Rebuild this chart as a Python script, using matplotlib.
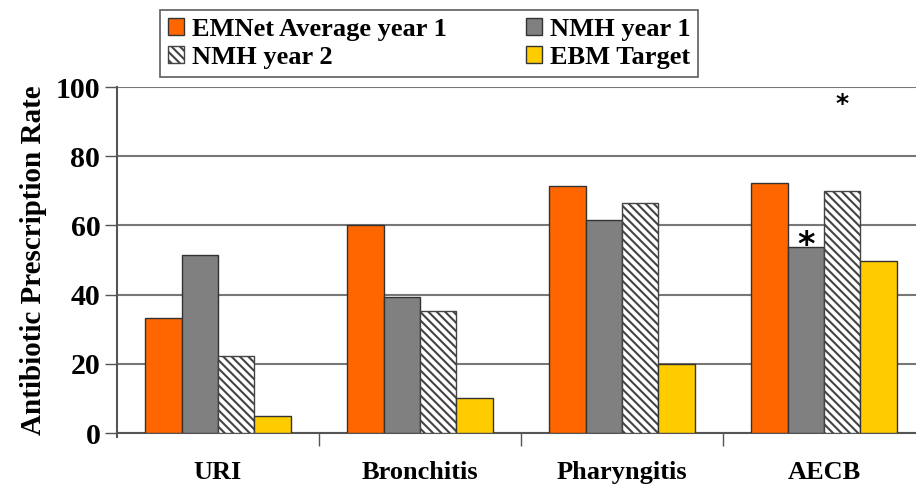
import matplotlib.pyplot as plt
import numpy as np

# categories and series values
categorias = ['URI', 'Bronchitis', 'Pharyngitis', 'AECB']
emnet_ano1 = [33.3, 60.0, 71.3, 72.4]
nmh_ano1 = [51.5, 39.4, 61.6, 53.8]
nmh_ano2 = [22.3, 35.4, 66.4, 69.9]
ebm_alvo = [4.8, 10.0, 19.9, 49.7]

plt.rcParams['font.family'] = ['Liberation Serif', 'DejaVu Serif']
plt.rcParams['font.weight'] = 'bold'
plt.rcParams['axes.labelweight'] = 'bold'
plt.rcParams['hatch.color'] = '#707070'
plt.rcParams['hatch.linewidth'] = 1.5

fig = plt.figure(figsize=(9.16, 4.88), dpi=100)
ax = fig.add_axes([0.1277, 0.1127, 0.882, 0.709])

x = np.arange(len(categorias))
w = 0.18
b1 = ax.bar(x - 1.5 * w, emnet_ano1, w, color='#FF6600', edgecolor='#333333',
            linewidth=1, label='EMNet Average year 1', zorder=3)
b2 = ax.bar(x - 0.5 * w, nmh_ano1, w, color='#808080', edgecolor='#333333',
            linewidth=1, label='NMH year 1', zorder=3)
b3 = ax.bar(x + 0.5 * w, nmh_ano2, w, color='white', edgecolor='#444444',
            hatch='\\\\\\\\', linewidth=1, label='NMH year 2', zorder=3)
b4 = ax.bar(x + 1.5 * w, ebm_alvo, w, color='#FFCC00', edgecolor='#333333',
            linewidth=1, label='EBM Target', zorder=3)

# asteriscos de significancia no AECB
ax.text(b2[3].get_x() + w / 2, nmh_ano1[3] - 4.5, '*', ha='center', va='bottom',
        fontsize=24, fontfamily='DejaVu Sans', zorder=4)
ax.text(b3[3].get_x() + w / 2, 91.5, '*', ha='center', va='bottom',
        fontsize=18, fontfamily='DejaVu Sans', zorder=4)

ax.set_xlim(-0.5, 3.5)
ax.set_ylim(0, 100)
ax.set_yticks([0, 20, 40, 60, 80, 100])
ax.tick_params(axis='y', labelsize=21.5, length=9, width=1, color='#555555', pad=3)
ax.set_xticks(x)
ax.set_xticklabels(categorias)
ax.tick_params(axis='x', which='major', labelsize=19, length=0, pad=20)
ax.set_xticks(np.arange(0.5, 3.5, 1), minor=True)
ax.tick_params(axis='x', which='minor', length=9, width=1, color='#555555')
ax.grid(axis='y', color='#777777', linewidth=1.5, zorder=0)
ax.set_axisbelow(True)

for s in ['top', 'right']:
    ax.spines[s].set_visible(False)
ax.spines['left'].set_color('#555555')
ax.spines['bottom'].set_color('#555555')
ax.spines['left'].set_linewidth(1.5)
ax.spines['bottom'].set_linewidth(1.5)
ax.spines['left'].set_bounds(-1.2, 100)

ax.set_ylabel('Antibiotic Prescription Rate', fontsize=21, labelpad=6)

handles = [b1, b3, b2, b4]
leg = fig.legend(handles, [h.get_label() for h in handles], ncol=2,
                 loc='upper left', bbox_to_anchor=(0.175, 0.98),
                 fontsize=19, frameon=True, fancybox=False, edgecolor='#333333',
                 handlelength=0.6, handleheight=0.6, handletextpad=0.3,
                 columnspacing=3.0, labelspacing=0.2, borderpad=0.3,
                 borderaxespad=0)
leg.get_frame().set_linewidth(1.2)

fig.savefig('out.png', dpi=100)
